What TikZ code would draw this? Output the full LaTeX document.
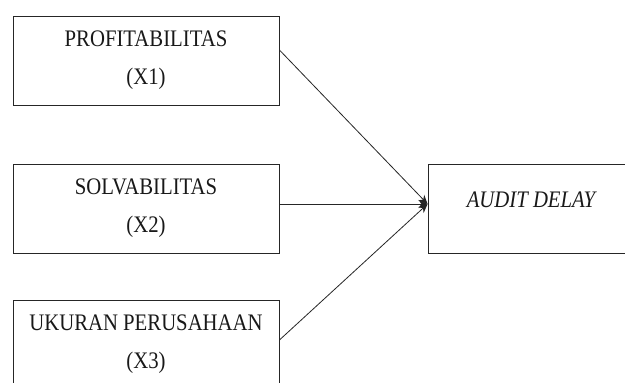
\documentclass[tikz,border=0pt]{standalone}
\usepackage{fontspec}
\setmainfont{Liberation Serif}[FakeStretch=0.875]
\usetikzlibrary{arrows.meta}
\begin{document}
\begin{tikzpicture}[x=1pt,y=-1pt,
  varbox/.style={draw=black!85,line width=0.9pt,rectangle,minimum width=266pt,minimum height=89pt,
    align=center,inner sep=0pt,font=\fontsize{23.7}{38}\selectfont,text=black!90},
  depbox/.style={draw=black!85,line width=0.9pt,rectangle,minimum width=206pt,minimum height=89pt,
    inner sep=0pt,text height=14pt,text depth=17pt,font=\fontsize{23.7}{38}\selectfont\itshape,text=black!90},
  link/.style={line width=0.8pt,draw=black!85,-{Stealth[length=9pt,width=8pt]}}]
\useasboundingbox (0,0) rectangle (625,383);
\fill[white] (0,0) rectangle (625,383);
\clip (0,0) rectangle (625,383);
\node[varbox] (x1) at (146,60.5) {PROFITABILITAS\\(X1)};
\node[varbox] (x2) at (146,208.5) {SOLVABILITAS\\(X2)};
\node[varbox] (x3) at (146,344.5) {UKURAN PERUSAHAAN\\(X3)};
\node[depbox] (y) at (531,208.5) {AUDIT DELAY};
\coordinate (tip) at ([yshift=4.5pt]y.west);
\draw[link] ([yshift=10.5pt]x1.east) -- (tip);
\draw[link] ([yshift=4.5pt]x2.east) -- (tip);
\draw[link] ([yshift=4.5pt]x3.east) -- (tip);
\end{tikzpicture}
\end{document}
